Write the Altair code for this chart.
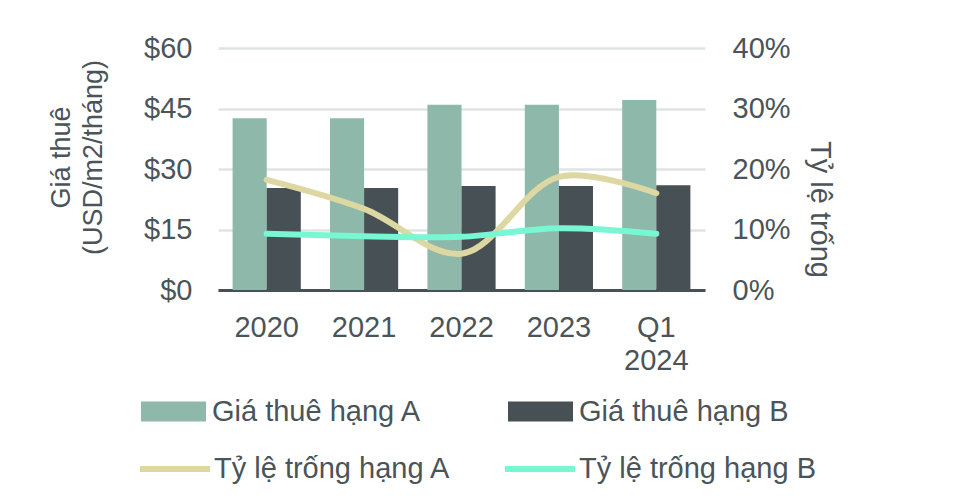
import altair as alt
import pandas as pd

years = ["2020", "2021", "2022", "2023", "Q1\n2024"]
rent_a = [42.6, 42.6, 45.9, 45.9, 47.1]
rent_b = [25.3, 25.3, 25.8, 25.8, 26.0]
vac_a = [18.2, 13.4, 6.0, 18.7, 16.0]
vac_b = [9.3, 8.9, 8.8, 10.2, 9.3]

names = ["Giá thuê hạng A", "Giá thuê hạng B", "Tỷ lệ trống hạng A", "Tỷ lệ trống hạng B"]
colors = ["#8DB8AA", "#475155", "#DDD7A2", "#78F7D3"]

FONT = "Liberation Sans"
TXT = "#4a5459"

def frame(vals, name):
    return pd.DataFrame({"year": years, "value": vals, "series": name})

x_enc = alt.X(
    "year:N", sort=years,
    scale=alt.Scale(paddingInner=0.3, paddingOuter=0.15),
    axis=alt.Axis(title=None, labelExpr="split(datum.label, '\\n')", labelAngle=0,
                  labelFontSize=29, labelColor=TXT, labelFont=FONT, labelPadding=23,
                  labelLineHeight=33, ticks=False, domainColor="#475155", domainWidth=3,
                  grid=False),
)

y_left = alt.Y(
    "value:Q", scale=alt.Scale(domain=[0, 60], nice=False),
    axis=alt.Axis(title=["Giá thuê", "(USD/m2/tháng)"], values=[0, 15, 30, 45, 60],
                  labelExpr="'$' + datum.value", grid=True, gridColor="#dfe4e2", gridWidth=2.5,
                  domain=False, ticks=False, labelPadding=26, labelFontSize=29,
                  labelColor=TXT, labelFont=FONT, titleFontSize=27, titleFont=FONT,
                  titleFontWeight="normal", titleColor=TXT, titlePadding=36, titleY=109,
                  titleLineHeight=32),
)

y_right = alt.Y(
    "value:Q", scale=alt.Scale(domain=[0, 40], nice=False),
    axis=alt.Axis(orient="right", title="Tỷ lệ trống", values=[0, 10, 20, 30, 40],
                  labelExpr="datum.value + '%'", grid=False, domain=False, ticks=False,
                  labelPadding=27, labelFontSize=29, labelColor=TXT, labelFont=FONT,
                  titleFontSize=29, titleFont=FONT, titleFontWeight="normal",
                  titleColor=TXT, titlePadding=14, titleY=161, titleAngle=90),
)

leg_pos = [(-77, 331), (290, 331), (-81, 383), (284, 383)]

def legend(i, line=False):
    kw = dict(title=None, orient="none", legendX=leg_pos[i][0], legendY=leg_pos[i][1],
              labelFontSize=29, labelFont=FONT, labelColor=TXT, labelOffset=6,
              padding=0, labelLimit=400)
    if line:
        kw.update(symbolType="stroke", symbolSize=4900, symbolStrokeWidth=6, labelOffset=1)
    else:
        kw.update(symbolType="M-1,-0.3077H1V0.3077H-1Z", symbolSize=4225,
                  symbolStrokeWidth=0)
    return alt.Legend(**kw)

def bar(vals, i):
    return alt.Chart(frame(vals, names[i])).mark_bar().encode(
        x=x_enc,
        xOffset=alt.XOffset("series:N", scale=alt.Scale(domain=names[:2], paddingInner=0,
                                                         paddingOuter=0)),
        y=y_left,
        color=alt.Color("series:N", scale=alt.Scale(domain=[names[i]], range=[colors[i]]),
                        legend=legend(i)),
    )

def line(vals, i):
    return alt.Chart(frame(vals, names[i])).mark_line(
        strokeWidth=6, interpolate="catmull-rom", strokeCap="round"
    ).encode(
        x=x_enc,
        y=y_right,
        color=alt.Color("series:N", scale=alt.Scale(domain=[names[i]], range=[colors[i]]),
                        legend=legend(i, line=True)),
    )

bars = alt.layer(bar(rent_a, 0), bar(rent_b, 1)).resolve_scale(color="independent")
lines = alt.layer(line(vac_a, 2), line(vac_b, 3)).resolve_scale(color="independent")

chart = alt.layer(bars, lines).resolve_scale(y="independent", color="independent").properties(
    width=487, height=242,
    autosize=alt.AutoSizeParams(type="none"),
    padding={"left": 210, "top": 40, "right": 250, "bottom": 200},
).configure(font=FONT).configure_view(stroke=None)

chart.save("out.html", embed_options={"renderer": "svg", "actions": False})
